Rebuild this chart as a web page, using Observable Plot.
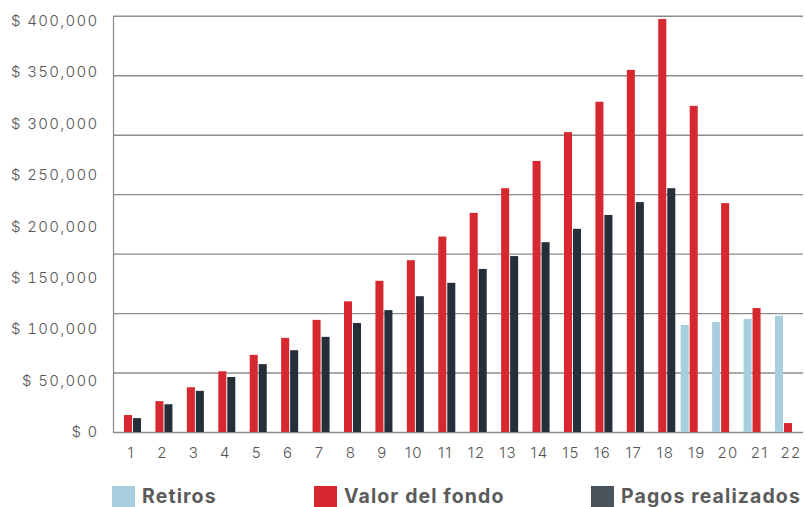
<!DOCTYPE html>
<html>
<head>
<meta charset="utf-8">
<script src="https://cdn.jsdelivr.net/npm/d3@7"></script>
<script src="https://cdn.jsdelivr.net/npm/@observablehq/plot@0.6"></script>
<style>
  html, body { margin: 0; padding: 0; background: #fff; }
  #wrap { position: relative; width: 805px; height: 507px; overflow: hidden; }
  .leg { position: absolute; top: 486px; display: flex; align-items: flex-start; font-family: Inter, "Open Sans", sans-serif; font-weight: 700; font-size: 19.5px; letter-spacing: 1.1px; color: #5b5b5b; line-height: 17px; }
  .leg .sw { width: 23px; height: 21px; margin-right: 7px; }
  .leg span { padding-top: 2px; }
</style>
</head>
<body>
<div id="wrap"><div id="chart"></div></div>
<script>
const categories = ["1","2","3","4","5","6","7","8","9","10","11","12","13","14","15","16","17","18","19","20","21","22"];
const retiros = [null,null,null,null,null,null,null,null,null,null,null,null,null,null,null,null,null,null,104000,107000,110000,113000];
const valorFondo = [16500,30000,43500,59000,75000,91500,109000,127000,147000,167000,190000,213000,237000,263500,291500,321000,352000,401500,317000,222500,120500,8700];
const pagos = [13500,27000,40000,53500,66000,79500,92500,106000,118500,132000,145000,158500,171000,184500,197500,211000,223500,237000,null,null,null,null];
const yTicks = [0,50000,100000,150000,200000,250000,300000,350000,400000];
const gridValues = [0,57800,115600,173400,231200,289000,346800,404600];
const seriesNames = ["Retiros","Valor del fondo","Pagos realizados"];
const barColors = ["#a8cfdd","#d7282f","#252f3a"];
const legendColors = ["#a8cfdd","#d7282f","#4a535b"];

const series = [retiros, valorFondo, pagos];
const table = [];
series.forEach((vals, s) => vals.forEach((v, i) => {
  if (v != null) table.push({cat: categories[i], serie: seriesNames[s], value: v});
}));

const offsets = [-11.5, -2.5, 6.5];
const sideInset = 11.7;

const plot = Plot.plot({
  width: 805,
  height: 472,
  marginLeft: 113,
  marginRight: 2,
  marginTop: 16,
  marginBottom: 40,
  style: {fontFamily: "Inter, Lato, sans-serif", fontWeight: 300, fontSize: "15px", color: "#555", background: "#fff", letterSpacing: "1.3px"},
  x: {type: "band", domain: categories, range: [114.8, 806.2], padding: 0, round: false},
  y: {domain: [0, 400000], range: [432, 20.5]},
  marks: [
    Plot.ruleY(gridValues, {stroke: "#8c8c8c", strokeWidth: 1.4}),
    Plot.frame({anchor: "left", stroke: "#888", strokeWidth: 1.2}),
    ...seriesNames.map((name, s) => Plot.barY(table.filter(d => d.serie === name), {
      x: "cat", y: "value", fill: barColors[s], dx: offsets[s], insetLeft: sideInset, insetRight: sideInset
    })),
    Plot.axisY(yTicks, {tickSize: 0, tickPadding: 15, fontSize: 15, tickFormat: d => "$ " + d3.format(",")(d), label: null}),
    Plot.axisX({tickSize: 0, tickPadding: 15, fontSize: 15, label: null})
  ]
});
document.getElementById("chart").appendChild(plot);

const legendLeft = [112, 314, 591];
const wrap = document.getElementById("wrap");
seriesNames.forEach((name, s) => {
  const item = document.createElement("div");
  item.className = "leg";
  item.style.left = legendLeft[s] + "px";
  const sw = document.createElement("div");
  sw.className = "sw";
  sw.style.background = legendColors[s];
  const tx = document.createElement("span");
  tx.textContent = name;
  item.appendChild(sw);
  item.appendChild(tx);
  wrap.appendChild(item);
});
</script>
</body>
</html>
